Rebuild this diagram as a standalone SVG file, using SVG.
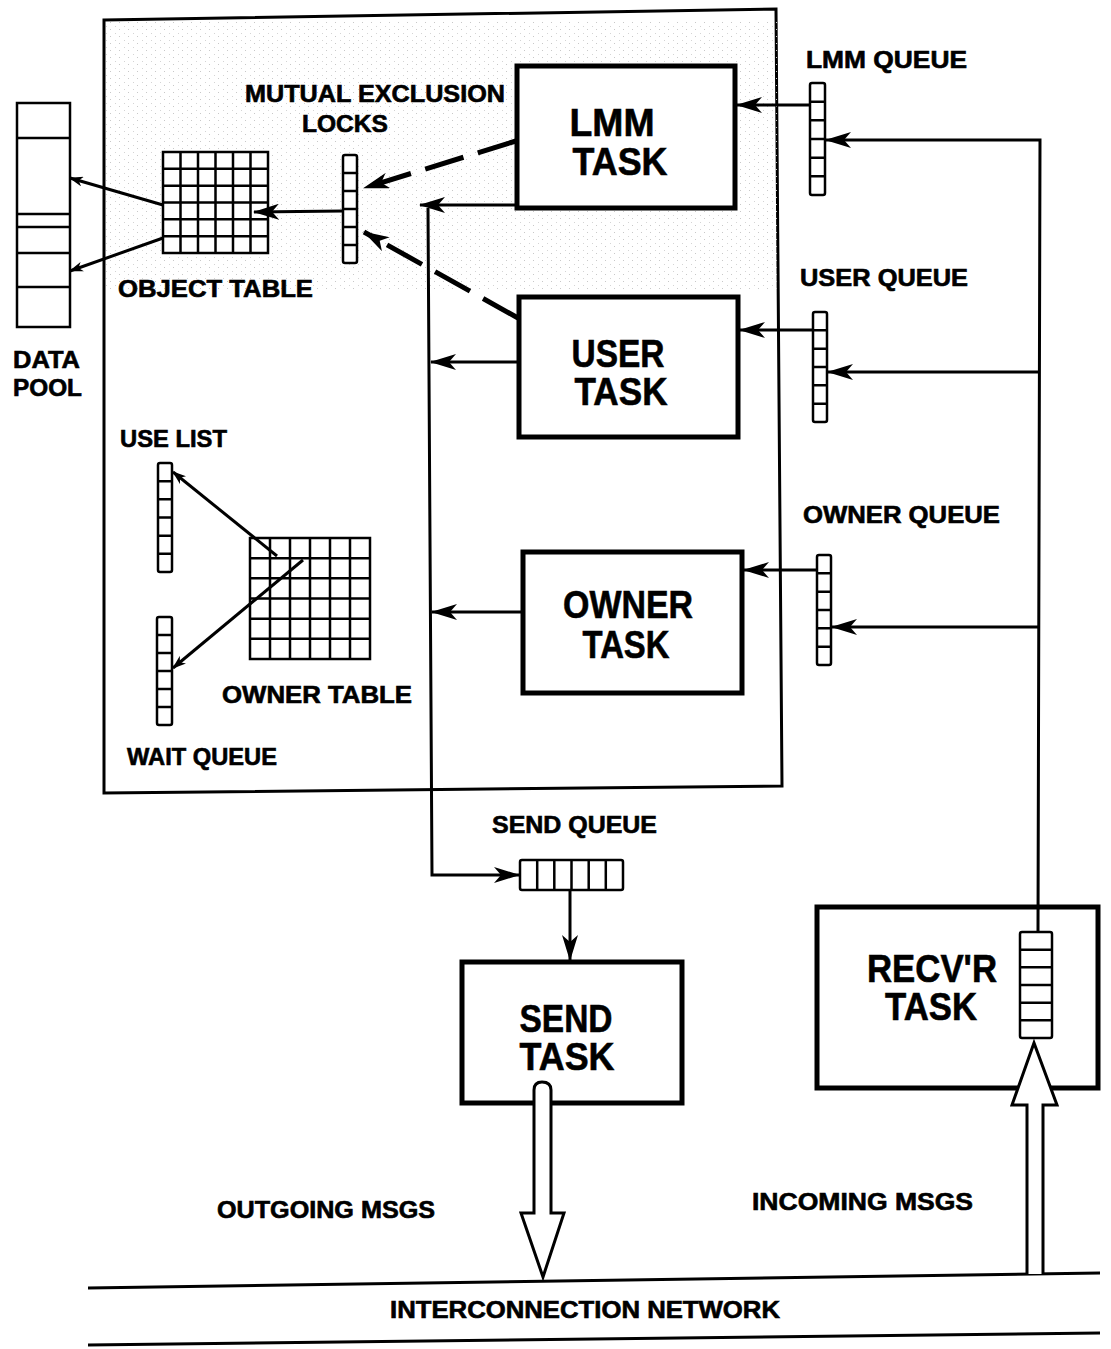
<svg xmlns="http://www.w3.org/2000/svg" width="1111" height="1349" viewBox="0 0 1111 1349">
<style>
  text { font-family: "Liberation Sans", Arial, sans-serif; font-weight: bold; fill: #000; stroke: #000; stroke-width: 0.6; }
  .lbl { font-size: 23px; }
  .big { font-size: 38px; text-anchor: middle; }
  .ln { fill: none; stroke: #000; stroke-width: 3; }
  .task { fill: #fff; stroke: #000; stroke-width: 5; }
  .cell { fill: #fff; stroke: #000; stroke-width: 2.5; }
  .grid { fill: none; stroke: #000; stroke-width: 2.5; }
  .dash { fill: none; stroke: #000; stroke-width: 5; stroke-dasharray: 40 15; }
  .hollow { fill: #fff; stroke: #000; stroke-width: 3; stroke-linejoin: miter; }
</style>
<defs>
  <marker id="ah" viewBox="0 0 26 16" refX="25" refY="8" markerWidth="26" markerHeight="16" markerUnits="userSpaceOnUse" orient="auto">
    <path d="M0,0 L26,8 L0,16 L7,8 z" fill="#000"/>
  </marker>
  <marker id="ahs" viewBox="0 0 14 10" refX="13" refY="5" markerWidth="14" markerHeight="10" markerUnits="userSpaceOnUse" orient="auto">
    <path d="M0,0 L14,5 L0,10 L4,5 z" fill="#000"/>
  </marker>
  <pattern id="stip" width="9" height="7" patternUnits="userSpaceOnUse">
    <rect x="2" y="1" width="1" height="1" fill="#c8c8c8"/>
    <rect x="7" y="5" width="1" height="1" fill="#d4d4d4"/>
  </pattern>
</defs>

<!-- outer processor box -->
<g id="processor">
  <path d="M104,20 L776,9 L782,786 L104,793 Z" fill="#fff" stroke="#000" stroke-width="3"/>
  <rect x="106" y="22" width="672" height="270" fill="url(#stip)"/>
</g>

<!-- data pool -->
<g id="data-pool">
  <rect x="17" y="103" width="53" height="224" class="cell" stroke-width="3"/>
  <path d="M17,138 H70 M17,214 H70 M17,227 H70 M17,253 H70 M17,287 H70" class="grid" stroke-width="3"/>
  <text class="lbl"><tspan x="13" y="368" textLength="67" lengthAdjust="spacingAndGlyphs">DATA</tspan><tspan x="13" y="396" textLength="69" lengthAdjust="spacingAndGlyphs">POOL</tspan></text>
</g>

<!-- object table -->
<g id="object-table">
  <rect x="163" y="152" width="105" height="101" class="cell" stroke-width="3"/>
  <path d="M180.5,152 V253 M198,152 V253 M215.5,152 V253 M233,152 V253 M250.5,152 V253 M163,168.8 H268 M163,185.7 H268 M163,202.5 H268 M163,219.3 H268 M163,236.2 H268" class="grid"/>
  <text class="lbl" x="118" y="297" textLength="195" lengthAdjust="spacingAndGlyphs">OBJECT TABLE</text>
</g>

<!-- mutual exclusion locks -->
<g id="locks">
  <rect x="343" y="155" width="14" height="108" rx="2" class="cell"/>
  <path d="M343,173 H357 M343,191 H357 M343,209 H357 M343,227 H357 M343,245 H357" class="grid"/>
  <text class="lbl"><tspan x="245" y="102" textLength="260" lengthAdjust="spacingAndGlyphs">MUTUAL EXCLUSION</tspan><tspan x="302" y="132" textLength="86" lengthAdjust="spacingAndGlyphs">LOCKS</tspan></text>
</g>

<!-- tasks -->
<g id="lmm-task">
  <rect x="517" y="66" width="218" height="142" class="task"/>
  <text class="big"><tspan x="612" y="136" textLength="85" lengthAdjust="spacingAndGlyphs">LMM</tspan><tspan x="620" y="175" textLength="95" lengthAdjust="spacingAndGlyphs">TASK</tspan></text>
</g>
<g id="user-task">
  <rect x="519" y="297" width="219" height="140" class="task"/>
  <text class="big"><tspan x="618" y="367" textLength="93" lengthAdjust="spacingAndGlyphs">USER</tspan><tspan x="621" y="405" textLength="93" lengthAdjust="spacingAndGlyphs">TASK</tspan></text>
</g>
<g id="owner-task">
  <rect x="523" y="552" width="219" height="141" class="task"/>
  <text class="big"><tspan x="628" y="618" textLength="130" lengthAdjust="spacingAndGlyphs">OWNER</tspan><tspan x="626" y="658" textLength="87" lengthAdjust="spacingAndGlyphs">TASK</tspan></text>
</g>

<!-- queues -->
<g id="lmm-queue">
  <rect x="810" y="83" width="15" height="112" rx="2" class="cell"/>
  <path d="M810,101.7 H825 M810,120.3 H825 M810,139 H825 M810,157.7 H825 M810,176.3 H825" class="grid"/>
  <text class="lbl" x="806" y="68" textLength="161" lengthAdjust="spacingAndGlyphs">LMM QUEUE</text>
</g>
<g id="user-queue">
  <rect x="813" y="312" width="14" height="110" rx="2" class="cell"/>
  <path d="M813,330.3 H827 M813,348.7 H827 M813,367 H827 M813,385.3 H827 M813,403.7 H827" class="grid"/>
  <text class="lbl" x="800" y="286" textLength="168" lengthAdjust="spacingAndGlyphs">USER QUEUE</text>
</g>
<g id="owner-queue">
  <rect x="817" y="555" width="14" height="110" rx="2" class="cell"/>
  <path d="M817,573.3 H831 M817,591.7 H831 M817,610 H831 M817,628.3 H831 M817,646.7 H831" class="grid"/>
  <text class="lbl" x="803" y="523" textLength="197" lengthAdjust="spacingAndGlyphs">OWNER QUEUE</text>
</g>

<!-- use list / wait queue / owner table -->
<g id="use-list">
  <rect x="158" y="463" width="14" height="109" rx="2" class="cell"/>
  <path d="M158,481.2 H172 M158,499.3 H172 M158,517.5 H172 M158,535.7 H172 M158,553.8 H172" class="grid"/>
  <text class="lbl" x="120" y="447" textLength="107" lengthAdjust="spacingAndGlyphs">USE LIST</text>
</g>
<g id="wait-queue">
  <rect x="157" y="617" width="15" height="108" rx="2" class="cell"/>
  <path d="M157,635 H172 M157,653 H172 M157,671 H172 M157,689 H172 M157,707 H172" class="grid"/>
  <text class="lbl" x="127" y="765" textLength="150" lengthAdjust="spacingAndGlyphs">WAIT QUEUE</text>
</g>
<g id="owner-table">
  <rect x="250" y="538" width="120" height="121" class="cell" stroke-width="3"/>
  <path d="M270,538 V659 M290,538 V659 M310,538 V659 M330,538 V659 M350,538 V659 M250,558.2 H370 M250,578.3 H370 M250,598.5 H370 M250,618.7 H370 M250,638.8 H370" class="grid"/>
  <text class="lbl" x="222" y="703" textLength="190" lengthAdjust="spacingAndGlyphs">OWNER TABLE</text>
</g>

<!-- send side -->
<g id="send-queue">
  <rect x="520" y="860" width="103" height="30" rx="2" class="cell"/>
  <path d="M537.2,860 V890 M554.3,860 V890 M571.5,860 V890 M588.7,860 V890 M605.8,860 V890" class="grid"/>
  <text class="lbl" x="492" y="833" textLength="165" lengthAdjust="spacingAndGlyphs">SEND QUEUE</text>
</g>
<g id="send-task">
  <rect x="462" y="962" width="220" height="141" class="task"/>
  <text class="big"><tspan x="566" y="1032" textLength="93" lengthAdjust="spacingAndGlyphs">SEND</tspan><tspan x="567" y="1070" textLength="95" lengthAdjust="spacingAndGlyphs">TASK</tspan></text>
</g>

<!-- receiver side -->
<g id="recvr-task">
  <rect x="817" y="907" width="281" height="181" class="task"/>
  <text class="big"><tspan x="932" y="982" textLength="130" lengthAdjust="spacingAndGlyphs">RECV'R</tspan><tspan x="931" y="1020" textLength="92" lengthAdjust="spacingAndGlyphs">TASK</tspan></text>
  <rect x="1020" y="932" width="32" height="106" rx="2" class="cell" stroke-width="3"/>
  <path d="M1020,949.7 H1052 M1020,967.3 H1052 M1020,985 H1052 M1020,1002.7 H1052 M1020,1020.3 H1052" class="grid"/>
</g>

<!-- network -->
<g id="network">
  <path d="M88,1288 L1100,1273" class="ln"/>
  <path d="M88,1345 L1100,1333" class="ln"/>
  <text class="lbl" x="390" y="1318" textLength="390" lengthAdjust="spacingAndGlyphs">INTERCONNECTION NETWORK</text>
  <text class="lbl" x="217" y="1218" textLength="218" lengthAdjust="spacingAndGlyphs">OUTGOING MSGS</text>
  <text class="lbl" x="752" y="1210" textLength="221" lengthAdjust="spacingAndGlyphs">INCOMING MSGS</text>
</g>

<!-- connectors -->
<g id="connectors">
  <path d="M163,205 L70,178" class="ln" marker-end="url(#ahs)"/>
  <path d="M163,238 L70,271" class="ln" marker-end="url(#ahs)"/>
  <path d="M343,211 L254,212" class="ln" marker-end="url(#ah)"/>
  <path d="M516,141 L364,188" class="dash" marker-end="url(#ah)"/>
  <path d="M518,318 L364,232" class="dash" marker-end="url(#ah)"/>
  <path d="M516,205 L420,205" class="ln" marker-end="url(#ah)"/>
  <path d="M518,362 L431,362" class="ln" marker-end="url(#ah)"/>
  <path d="M522,612 L432,612" class="ln" marker-end="url(#ah)"/>
  <path d="M428,208 L432,875 L519,875" class="ln" marker-end="url(#ah)"/>
  <path d="M570,890 L570,960" class="ln" marker-end="url(#ah)"/>
  <path d="M810,105 L737,105" class="ln" marker-end="url(#ah)"/>
  <path d="M813,330 L740,330" class="ln" marker-end="url(#ah)"/>
  <path d="M817,570 L744,570" class="ln" marker-end="url(#ah)"/>
  <path d="M1038,932 L1040,140 L826,140" class="ln" marker-end="url(#ah)"/>
  <path d="M1040,372 L828,372" class="ln" marker-end="url(#ah)"/>
  <path d="M1040,627 L832,627" class="ln" marker-end="url(#ah)"/>
  <path d="M277,556 L173,472" class="ln" marker-end="url(#ahs)"/>
  <path d="M303,560 L173,668" class="ln" marker-end="url(#ahs)"/>
  <path d="M534,1090 Q534,1082 542,1082 Q551,1082 551,1090 L551,1213 L564,1213 L543,1277 L521,1213 L534,1213 Z" class="hollow"/>
  <path d="M1027,1274 L1027,1105 L1012,1105 L1034,1043 L1057,1105 L1043,1105 L1043,1274" class="hollow"/>
</g>
</svg>
